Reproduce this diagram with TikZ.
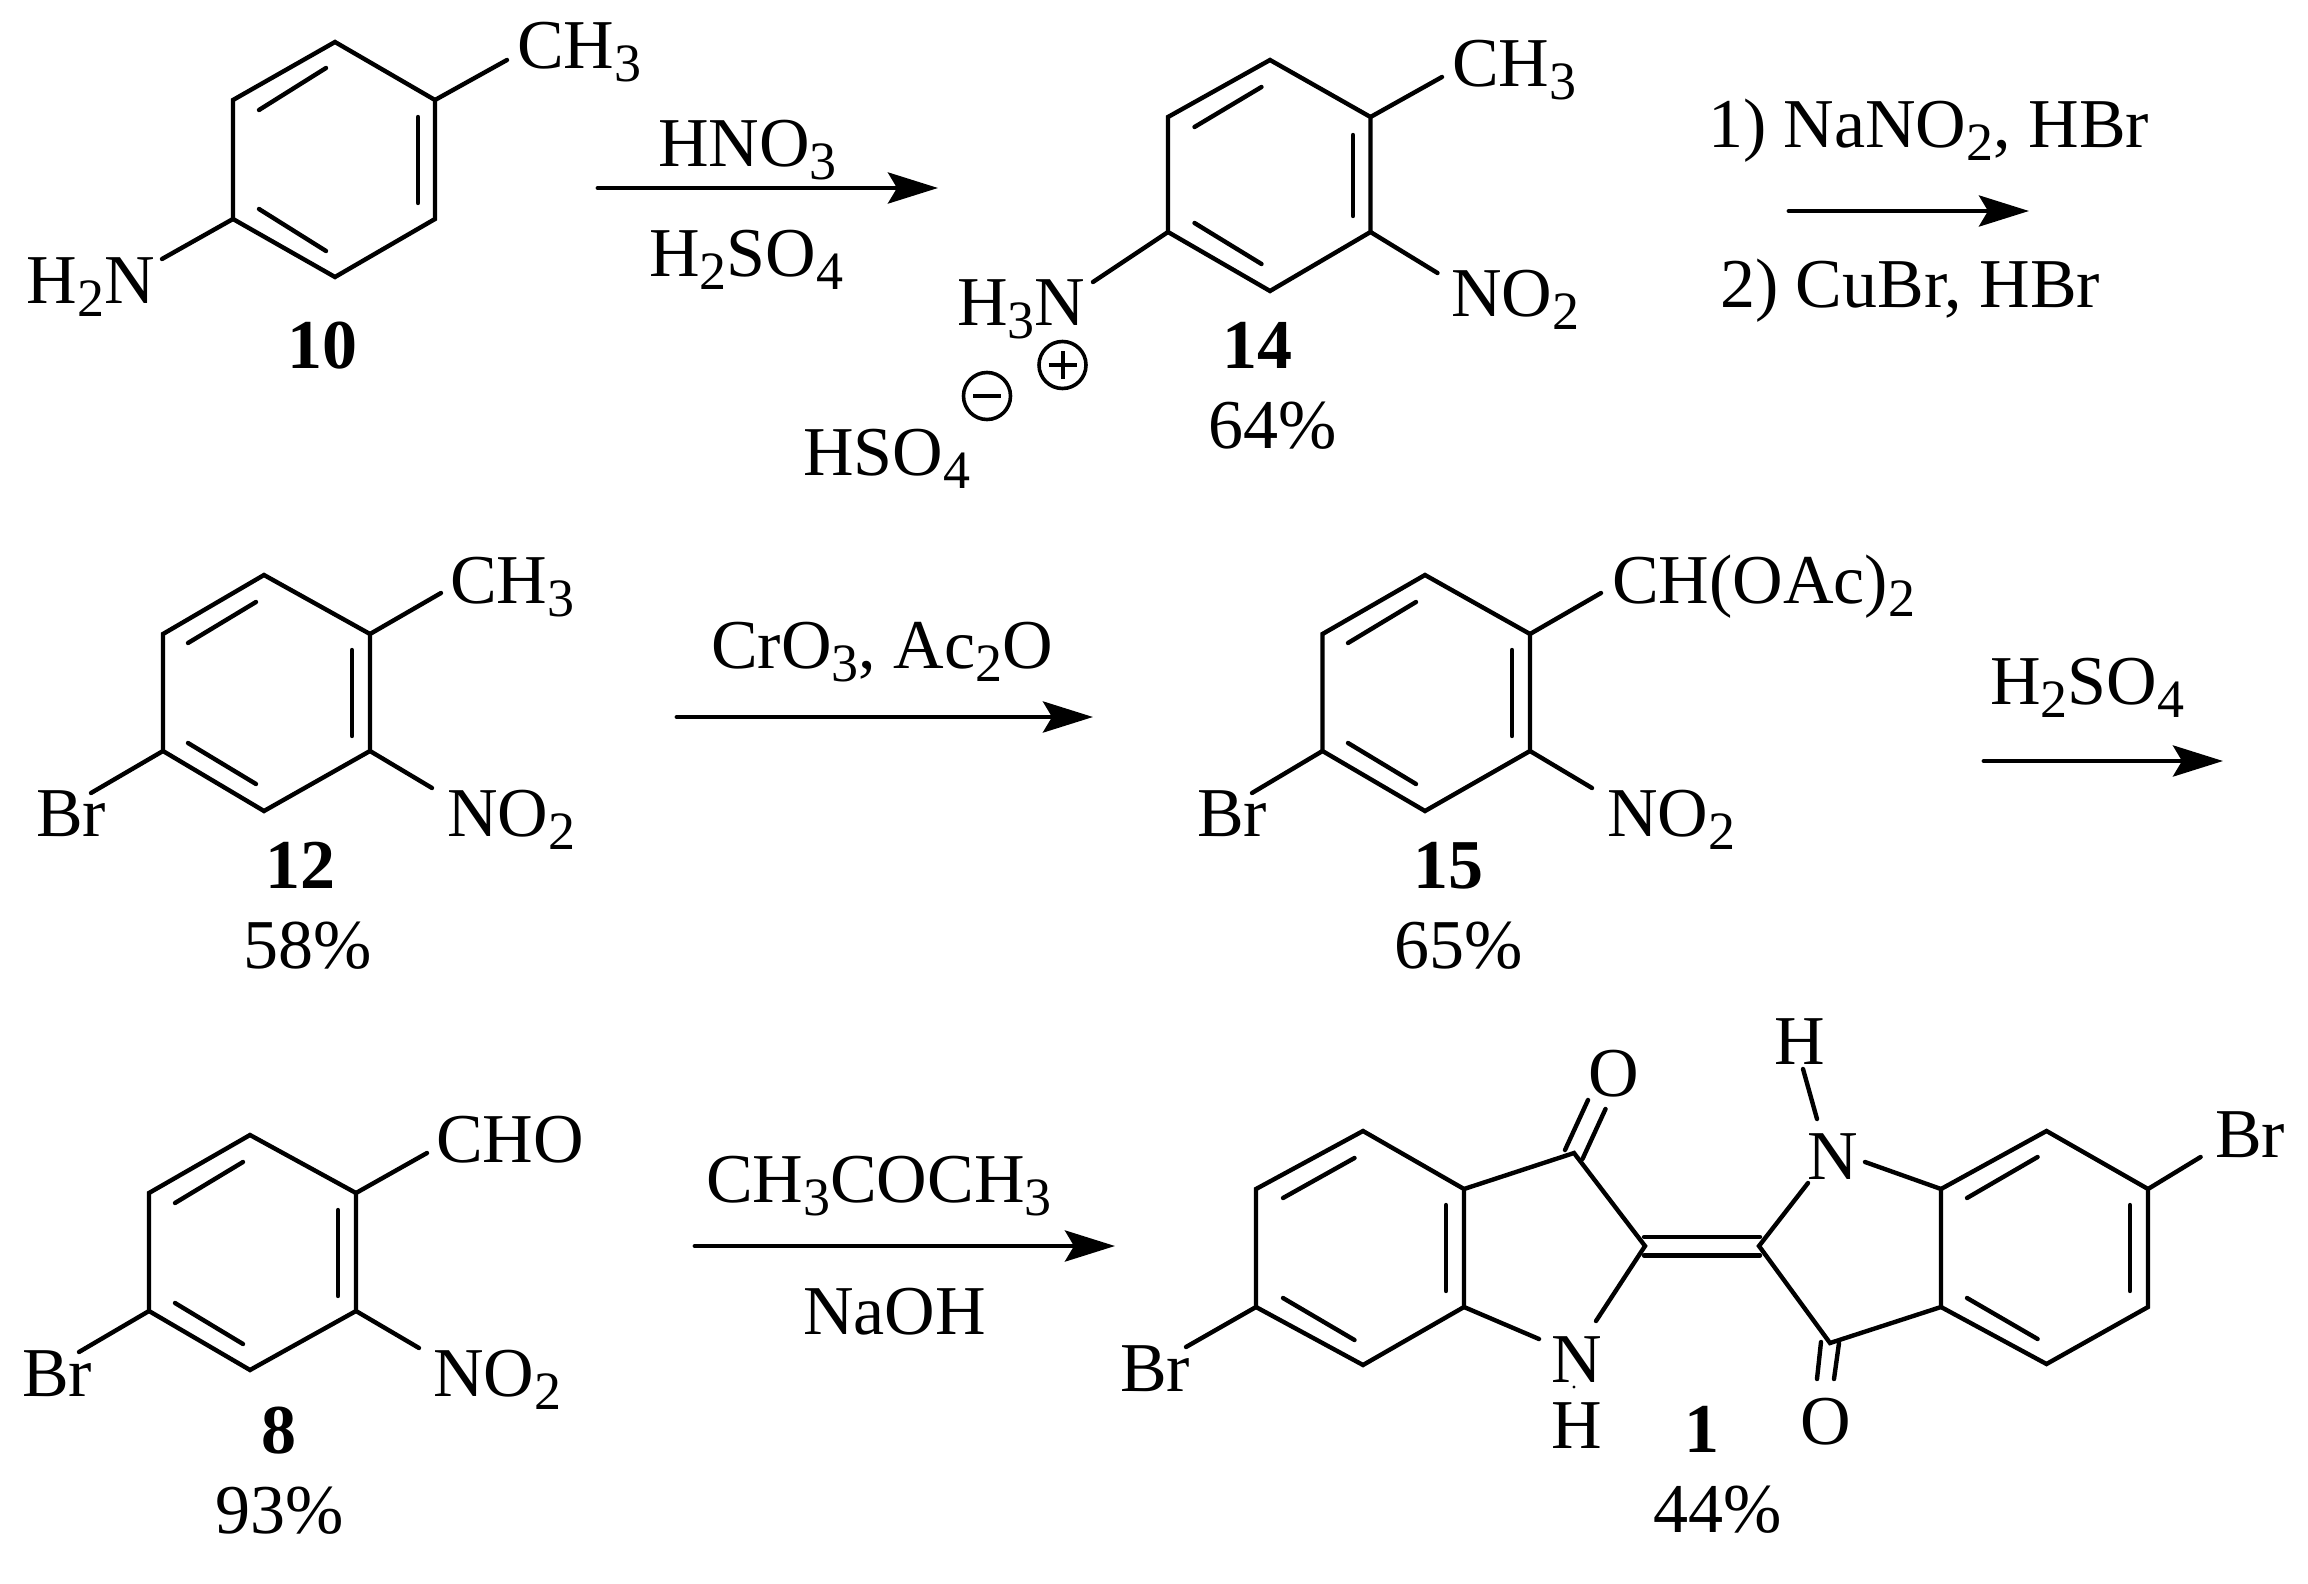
\documentclass[tikz,border=0pt]{standalone}
\usepackage{fontspec}
\setmainfont{Liberation Serif}
\usetikzlibrary{arrows.meta}
\newcommand\sbs[1]{\raisebox{-13pt}{\fontsize{54}{54}\selectfont #1}}
% ring: name, xL, xM, xR, y1(top), y2, y3, y4(bottom)
\newcommand\benzring[8]{%
  \coordinate (#1t) at (#3,#5);
  \coordinate (#1ur) at (#4,#6);
  \coordinate (#1lr) at (#4,#7);
  \coordinate (#1b) at (#3,#8);
  \coordinate (#1ll) at (#2,#7);
  \coordinate (#1ul) at (#2,#6);
  \draw[bond] (#1t) -- (#1ur) -- (#1lr) -- (#1b) -- (#1ll) -- (#1ul) -- cycle;
}
\newcommand\bondpair[6]{%
  \coordinate (#1a) at (#2,#3);
  \coordinate (#1b) at (#4,#5);
  \draw[#6] (#1a) -- (#1b);
}
\tikzset{
  bond/.style={line width=4.4pt,line cap=round,line join=miter,black},
  lab/.style={anchor=base west,inner sep=0pt,outer sep=0pt,text=black,font=\fontsize{70}{80}\selectfont},
  cen/.style={anchor=base,inner sep=0pt,outer sep=0pt,text=black,font=\fontsize{70}{80}\selectfont},
  num/.style={cen,font=\fontsize{70}{80}\selectfont\bfseries},
  rxn/.style={line width=4.8pt,line cap=round,black,-{Stealth[length=50pt,width=31pt,inset=9pt]}},
  charge/.style={circle,draw=black,line width=3.6pt,minimum size=47pt,inner sep=0pt,outer sep=0pt}
}
\begin{document}
\begin{tikzpicture}[x=1pt,y=-1pt]
\fill[white] (0,0) rectangle (2308,1584);
\path[use as bounding box] (0,0) rectangle (2308,1584);
% ---------- 10
\benzring{A}{233}{335}{435}{42}{100}{219}{277}
\bondpair{Ai1}{259}{110}{326}{68}{bond}
\bondpair{Ai2}{418}{117}{418}{203}{bond}
\bondpair{Ai3}{259}{209}{326}{251}{bond}
\coordinate (Ame) at (507,60);
\coordinate (Anh) at (162,259);
\draw[bond] (Aur) -- (Ame);
\draw[bond] (All) -- (Anh);
\node[lab] (tA1) at (517,69) {CH\sbs{3}};
\node[lab] (tA2) at (27,303) {H\sbs{2}N};
\node[num] (nA) at (322,368) {10};
% arrow 1
\coordinate (r1s) at (598,188); \coordinate (r1e) at (938,188);
\draw[rxn] (r1s) -- (r1e);
\node[lab] (r1a) at (658,167) {HNO\sbs{3}};
\node[lab] (r1b) at (649,276) {H\sbs{2}SO\sbs{4}};
% ---------- 14
\benzring{B}{1168}{1270}{1370.5}{60}{117}{232}{291}
\bondpair{Bi1}{1194.5}{127}{1261.5}{87}{bond}
\bondpair{Bi2}{1353}{135}{1353}{216}{bond}
\bondpair{Bi3}{1194.5}{223}{1261.5}{264}{bond}
\coordinate (Bme) at (1442,77);
\coordinate (Bno) at (1437.5,273);
\coordinate (Bnh) at (1093,282);
\draw[bond] (Bur) -- (Bme);
\draw[bond] (Blr) -- (Bno);
\draw[bond] (Bll) -- (Bnh);
\node[lab] (tB1) at (1452,87) {CH\sbs{3}};
\node[lab] (tB2) at (1451,316) {NO\sbs{2}};
\node[lab] (tB3) at (957,325) {H\sbs{3}N};
\node[lab] (tB4) at (803,475) {HSO\sbs{4}};
\node[num] (nB) at (1257,368) {14};
\node[cen] (yB) at (1273,448) {64\%};
\node[charge] (plus) at (1062.5,365) {};
\draw[line width=4pt] ([xshift=-14pt]plus.center) -- ([xshift=14pt]plus.center);
\draw[line width=4pt] ([yshift=-14pt]plus.center) -- ([yshift=14pt]plus.center);
\node[charge] (minus) at (987,396) {};
\draw[line width=4pt] ([xshift=-14pt]minus.center) -- ([xshift=14pt]minus.center);
% arrow 2
\coordinate (r2s) at (1789,211); \coordinate (r2e) at (2029,211);
\draw[rxn] (r2s) -- (r2e);
\node[lab] (r2a) at (1708,148) {1) NaNO\sbs{2}, HBr};
\node[lab] (r2b) at (1720,307) {2) CuBr, HBr};
% ---------- 12
\benzring{C}{163}{264}{370}{575}{634}{751}{811}
\bondpair{Ci1}{188}{643}{256}{602}{bond}
\bondpair{Ci2}{352}{650}{352}{736}{bond}
\bondpair{Ci3}{188}{743}{256}{784}{bond}
\coordinate (Cme) at (441,593);
\coordinate (Cno) at (432,788);
\coordinate (Cbr) at (91,793);
\draw[bond] (Cur) -- (Cme);
\draw[bond] (Clr) -- (Cno);
\draw[bond] (Cll) -- (Cbr);
\node[lab] (tC1) at (450,603) {CH\sbs{3}};
\node[lab] (tC2) at (447,836) {NO\sbs{2}};
\node[lab] (tC3) at (36,836) {Br};
\node[num] (nC) at (300,888) {12};
\node[cen] (yC) at (308,968) {58\%};
% arrow 3
\coordinate (r3s) at (677,717); \coordinate (r3e) at (1093,717);
\draw[rxn] (r3s) -- (r3e);
\node[lab] (r3a) at (711,668) {CrO\sbs{3}, Ac\sbs{2}O};
% ---------- 15
\benzring{D}{1322.5}{1425}{1530}{575}{634}{751}{811}
\bondpair{Di1}{1348}{643}{1416}{602}{bond}
\bondpair{Di2}{1512}{650}{1512}{736}{bond}
\bondpair{Di3}{1348}{743}{1416}{784}{bond}
\coordinate (Dme) at (1601,593);
\coordinate (Dno) at (1592,788);
\coordinate (Dbr) at (1252,793);
\draw[bond] (Dur) -- (Dme);
\draw[bond] (Dlr) -- (Dno);
\draw[bond] (Dll) -- (Dbr);
\node[lab] (tD1) at (1612,603) {CH(OAc)\sbs{2}};
\node[lab] (tD2) at (1607,836) {NO\sbs{2}};
\node[lab] (tD3) at (1197,836) {Br};
\node[num] (nD) at (1448,888) {15};
\node[cen] (yD) at (1459,968) {65\%};
% arrow 4
\coordinate (r4s) at (1984,761); \coordinate (r4e) at (2223,761);
\draw[rxn] (r4s) -- (r4e);
\node[lab] (r4a) at (1990,704) {H\sbs{2}SO\sbs{4}};
% ---------- 8
\benzring{E}{149}{250}{356}{1135}{1193}{1311}{1370}
\bondpair{Ei1}{175}{1203}{243}{1162}{bond}
\bondpair{Ei2}{338}{1210}{338}{1296}{bond}
\bondpair{Ei3}{175}{1303}{243}{1344}{bond}
\coordinate (Eme) at (427,1153);
\coordinate (Eno) at (419,1348);
\coordinate (Ebr) at (79,1352);
\draw[bond] (Eur) -- (Eme);
\draw[bond] (Elr) -- (Eno);
\draw[bond] (Ell) -- (Ebr);
\node[lab] (tE1) at (436,1162) {CHO};
\node[lab] (tE2) at (433,1396) {NO\sbs{2}};
\node[lab] (tE3) at (22,1396) {Br};
\node[num] (nE) at (279,1453) {8};
\node[cen] (yE) at (280,1533) {93\%};
% arrow 5
\coordinate (r5s) at (695,1246); \coordinate (r5e) at (1115,1246);
\draw[rxn] (r5s) -- (r5e);
\node[lab] (r5a) at (706,1202) {CH\sbs{3}COCH\sbs{3}};
\node[lab] (r5b) at (803,1334) {NaOH};
% ---------- 1 (left half)
\benzring{F}{1256}{1363}{1464}{1131}{1189}{1307}{1365}
\bondpair{Fi1}{1283}{1198}{1354.5}{1158}{bond}
\bondpair{Fi2}{1446}{1205}{1446}{1291}{bond}
\bondpair{Fi3}{1283}{1298}{1354.5}{1340}{bond}
\coordinate (Fco) at (1574,1153);
\coordinate (Fc2) at (1645,1246);
\coordinate (Fn1) at (1596,1321);
\coordinate (Fn2) at (1539,1339);
\coordinate (Fbr) at (1186,1347);
\draw[bond] (Fur) -- (Fco) -- (Fc2) -- (Fn1);
\draw[bond] (Flr) -- (Fn2);
\draw[bond] (Fll) -- (Fbr);
\bondpair{Fo1}{1565}{1150}{1588}{1100}{bond}
\bondpair{Fo2}{1582.5}{1159}{1605.5}{1109}{bond}
% central double bond
\bondpair{Cd1}{1644}{1237}{1760}{1237}{bond}
\bondpair{Cd2}{1644}{1255.5}{1760}{1255.5}{bond}
% right half
\benzring{G}{1941}{2046.5}{2148}{1131}{1189}{1307}{1364}
\bondpair{Gi1}{1967}{1198}{2037.6}{1157}{bond}
\bondpair{Gi2}{2130}{1205}{2130}{1291}{bond}
\bondpair{Gi3}{1967}{1298}{2037.6}{1339}{bond}
\coordinate (Gco) at (1830,1343);
\coordinate (Gc2) at (1759,1246);
\coordinate (Gn1) at (1808,1183);
\coordinate (Gn2) at (1865,1162);
\coordinate (Gbr) at (2200.6,1157);
\draw[bond] (Gll) -- (Gco) -- (Gc2) -- (Gn1);
\draw[bond] (Gul) -- (Gn2);
\draw[bond] (Gur) -- (Gbr);
\bondpair{Go1}{1821}{1342}{1817}{1379}{bond}
\bondpair{Go2}{1839}{1343}{1834}{1379}{bond}
\bondpair{Gh}{1803}{1069}{1817}{1119}{bond}
% labels of 1
\node[lab] (tF1) at (1120,1391) {Br};
\node[lab] (tF2) at (1588,1096) {O};
\node[lab] (tF3) at (1551,1382) {N};
\node[lab] (tF4) at (1551,1448) {H};
\fill (1574,1387) circle (1.6pt);
\node[num] (nF) at (1702,1452) {1};
\node[cen] (yF) at (1718,1532) {44\%};
\node[lab] (tG1) at (1774,1064) {H};
\node[lab] (tG2) at (1807,1179) {N};
\node[lab] (tG3) at (2215,1157) {Br};
\node[lab] (tG4) at (1800,1444) {O};
\end{tikzpicture}
\end{document}
